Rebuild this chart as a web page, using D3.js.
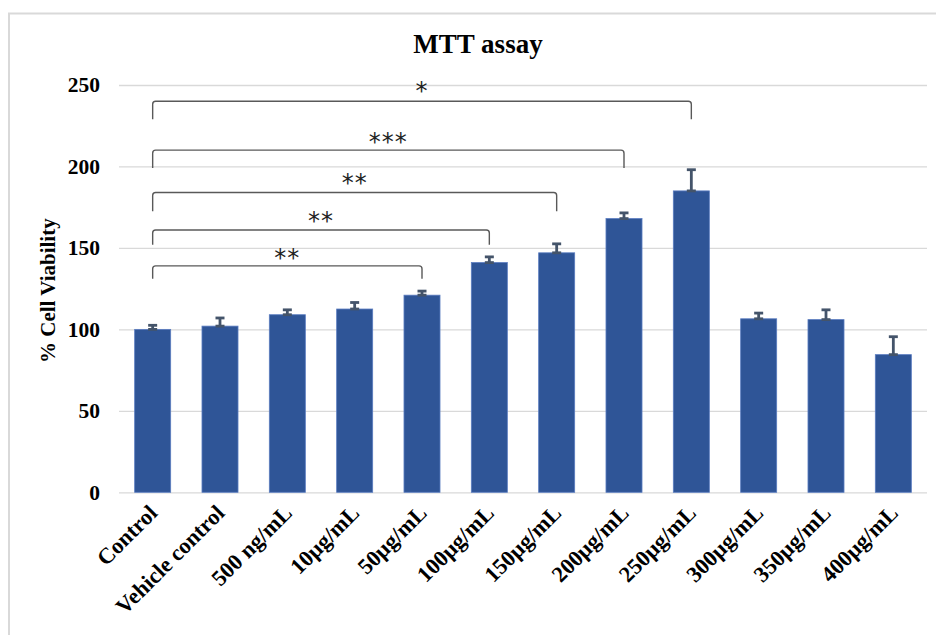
<!DOCTYPE html>
<html>
<head>
<meta charset="utf-8">
<script src="https://cdn.jsdelivr.net/npm/d3@7"></script>
<style>
  html, body { margin: 0; padding: 0; background: #fff; }
  svg { display: block; }
</style>
</head>
<body>
<script>
// Treatment groups and mean cell viability (%) with SD
const categories = ["Control", "Vehicle control", "500 ng/mL", "10µg/mL", "50µg/mL",
  "100µg/mL", "150µg/mL", "200µg/mL", "250µg/mL", "300µg/mL", "350µg/mL", "400µg/mL"];
const viability = [100, 102, 109, 112.5, 121, 141, 147, 168, 185, 106.5, 106, 84.5];
const errors = [2.5, 5, 3, 4, 2.5, 3.5, 5.5, 3.5, 13, 3.5, 6, 11];
const yTicks = [0, 50, 100, 150, 200, 250];

// Significance brackets: each joins Control to a treatment group
const bracketTo = ["50µg/mL", "100µg/mL", "150µg/mL", "200µg/mL", "250µg/mL"];
const bracketTop = [139, 161, 184, 210, 240];
const bracketFoot = [131, 152, 172.5, 199, 229];
const bracketMarks = ["**", "**", "**", "***", "*"];
const markLevel = [146, 169, 192, 217.5, 249];

const W = 936, H = 635;
const margin = { top: 85, right: 9, bottom: 142.7, left: 119 };
const serif = "'Liberation Serif', 'Times New Roman', serif";

const svg = d3.select("body").append("svg")
  .attr("width", W).attr("height", H);

// outer chart frame
svg.append("rect")
  .attr("x", 9).attr("y", 13.5).attr("width", W + 10).attr("height", H + 10)
  .attr("fill", "none").attr("stroke", "#d9d9d9").attr("stroke-width", 2);

const x = d3.scaleBand()
  .domain(categories)
  .range([margin.left, W - margin.right])
  .paddingInner(0.465).paddingOuter(0.2325);

const y = d3.scaleLinear()
  .domain([0, 250])
  .range([H - margin.bottom, margin.top]);

// title
svg.append("text")
  .attr("x", 478).attr("y", 53)
  .attr("text-anchor", "middle")
  .attr("font-family", serif).attr("font-weight", "bold").attr("font-size", 27)
  .attr("fill", "#000")
  .text("MTT assay");

// horizontal gridlines + y tick labels
const yAxis = d3.axisLeft(y).tickValues(yTicks)
  .tickSize(-(W - margin.right - margin.left)).tickPadding(19);
const gy = svg.append("g")
  .attr("transform", `translate(${margin.left},0)`)
  .call(yAxis);
gy.select(".domain").remove();
gy.selectAll(".tick line").attr("stroke", "#d9d9d9").attr("stroke-width", 1.3);
gy.selectAll(".tick text")
  .attr("font-family", serif).attr("font-weight", "bold").attr("font-size", 21.5)
  .attr("fill", "#000");

// y axis title
svg.append("text")
  .attr("transform", `translate(55,${(margin.top + H - margin.bottom) / 2 + 2}) rotate(-90)`)
  .attr("text-anchor", "middle")
  .attr("font-family", serif).attr("font-weight", "bold").attr("font-size", 21)
  .attr("fill", "#000")
  .text("% Cell Viability");

// bars
svg.append("g").selectAll("rect")
  .data(categories)
  .join("rect")
  .attr("x", d => x(d))
  .attr("y", (d, i) => y(viability[i]))
  .attr("width", x.bandwidth())
  .attr("height", (d, i) => y(0) - y(viability[i]))
  .attr("fill", "#2f5597")
  .attr("stroke", "#5a7cc0").attr("stroke-width", 0.8);

// error bars (upper)
const capW = 9;
const eb = svg.append("g").attr("stroke", "#44546a").attr("stroke-width", 2.8);
categories.forEach((c, i) => {
  const cx = x(c) + x.bandwidth() / 2;
  const y0 = y(viability[i]), y1 = y(viability[i] + errors[i]);
  eb.append("line").attr("x1", cx).attr("x2", cx).attr("y1", y0).attr("y2", y1);
  eb.append("line").attr("x1", cx - capW / 2).attr("x2", cx + capW / 2).attr("y1", y1).attr("y2", y1);
  eb.append("line").attr("x1", cx - capW / 2).attr("x2", cx + capW / 2).attr("y1", y0).attr("y2", y0);
});

// x category labels
svg.append("g").selectAll("text")
  .data(categories)
  .join("text")
  .attr("transform", d => `translate(${x(d) + x.bandwidth() / 2 + 6},${y(0) + 22}) rotate(-45)`)
  .attr("text-anchor", "end")
  .attr("font-family", serif).attr("font-weight", "bold").attr("font-size", 22.5)
  .attr("fill", "#000")
  .text(d => d);

// significance brackets
const bg = svg.append("g");
const r = 3;
const cxOf = c => x(c) + x.bandwidth() / 2;
bracketTo.forEach((c, i) => {
  const x0 = cxOf(categories[0]), x1 = cxOf(c);
  const yt = y(bracketTop[i]), yf = y(bracketFoot[i]);
  const p = d3.path();
  p.moveTo(x0, yf);
  p.lineTo(x0, yt + r);
  p.quadraticCurveTo(x0, yt, x0 + r, yt);
  p.lineTo(x1 - r, yt);
  p.quadraticCurveTo(x1, yt, x1, yt + r);
  p.lineTo(x1, yf);
  bg.append("path").attr("d", p.toString())
    .attr("fill", "none").attr("stroke", "#595959").attr("stroke-width", 1.4);
  bg.append("text")
    .attr("x", (x0 + x1) / 2)
    .attr("y", y(markLevel[i]) + 12)
    .attr("text-anchor", "middle")
    .attr("font-family", "'DejaVu Sans', sans-serif").attr("font-size", 24)
    .attr("letter-spacing", 1)
    .attr("fill", "#222")
    .text(bracketMarks[i]);
});
</script>
</body>
</html>
